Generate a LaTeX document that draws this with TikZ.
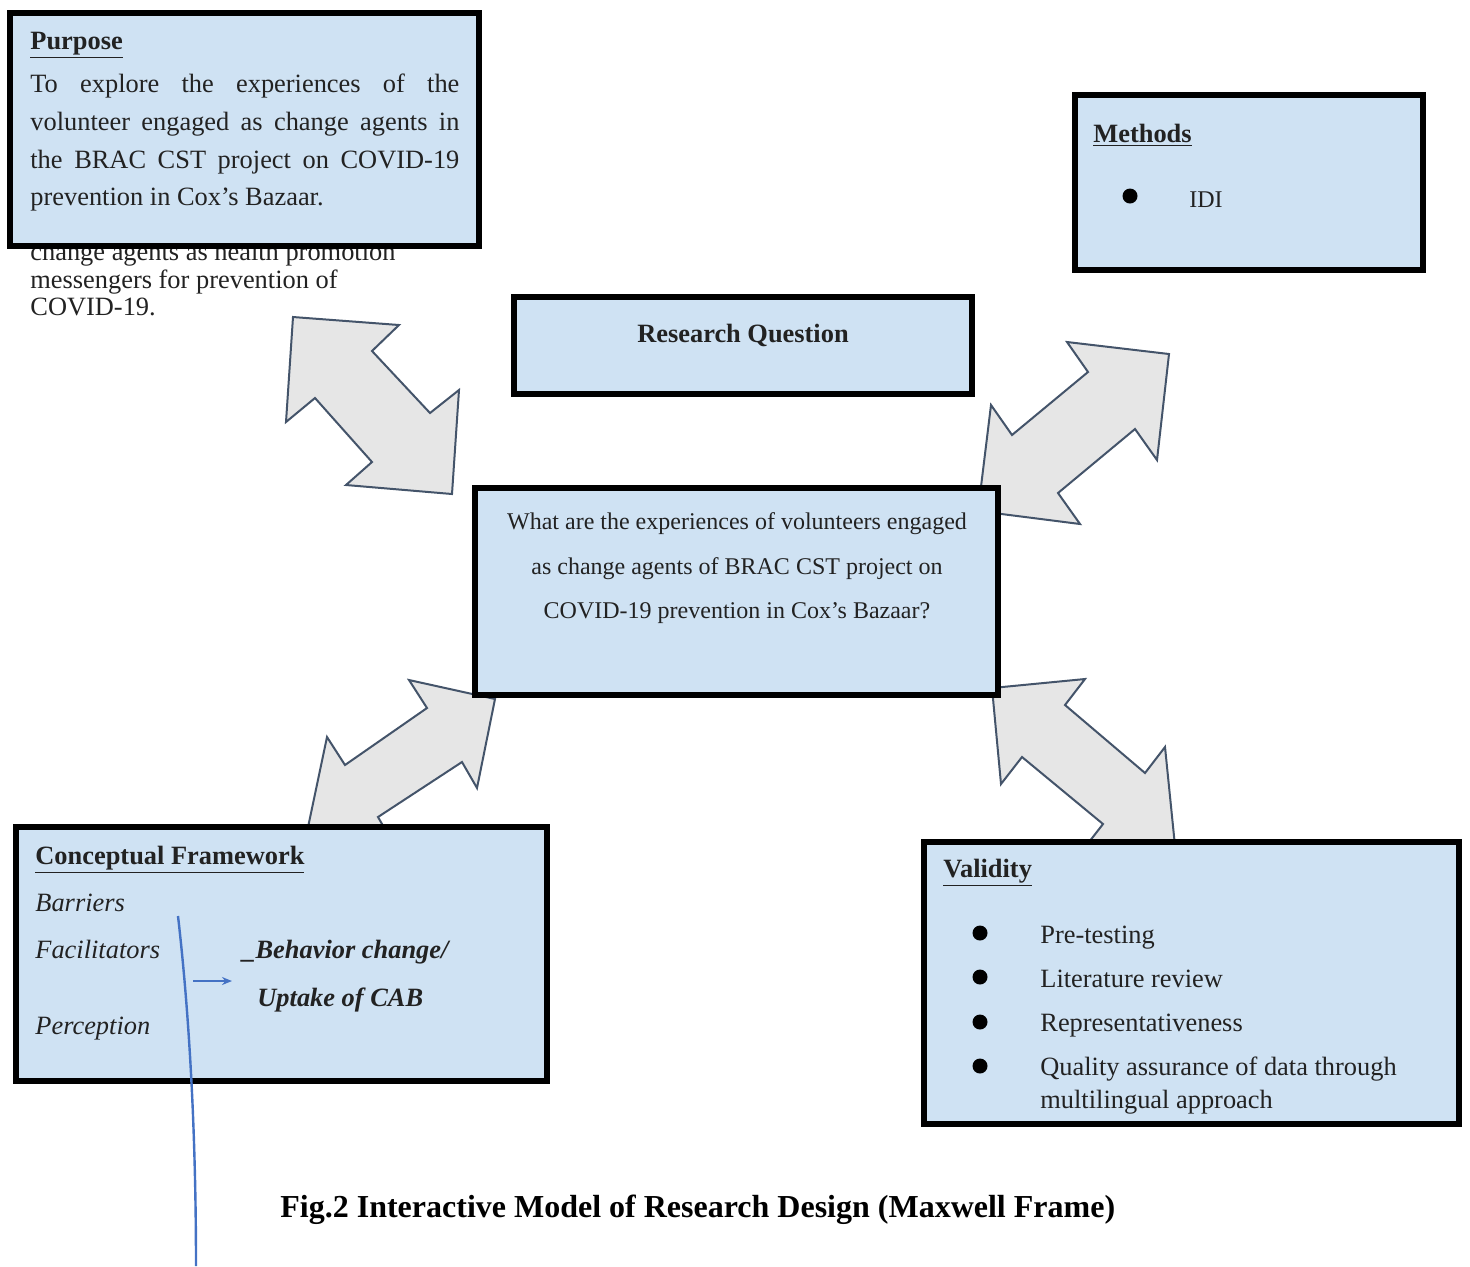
\documentclass[tikz,border=0pt]{standalone}
\usepackage{fontspec}
\setmainfont{Liberation Serif}
\usetikzlibrary{fit,arrows.meta}
\definecolor{panelblue}{RGB}{207,226,243}
\definecolor{arrowgray}{RGB}{230,230,230}
\definecolor{arrowedge}{RGB}{68,84,106}
\definecolor{linkblue}{RGB}{68,114,196}
\definecolor{inkgray}{RGB}{34,34,34}
\tikzset{
  panel/.style={draw=black, line width=3.2pt, fill=panelblue, inner sep=0pt, outer sep=0pt},
  blockarrow/.style={draw=arrowedge, fill=arrowgray, line width=1pt, line join=miter},
  txt/.style={anchor=base west, inner sep=0pt, text=inkgray, font=\fontsize{13.2}{15}\selectfont},
  head/.style={txt, font=\fontsize{13.2}{15}\selectfont\bfseries},
  smalltxt/.style={txt, font=\fontsize{12}{14}\selectfont},
  slanttxt/.style={txt, font=\fontsize{13.2}{15}\selectfont\itshape},
}
\begin{document}
\begin{tikzpicture}[x=0.5pt,y=-0.5pt]
    \useasboundingbox (0,0) rectangle (1470,1266);

    \draw[blockarrow] (293,317) -- (399,325) -- (372,351) -- (430,413) -- (459,390) -- (452,494)
        -- (346,485) -- (372,462) -- (315,398) -- (286,422) -- cycle;
    \draw[blockarrow] (1169,354) -- (1067,342) -- (1088,372) -- (1012,435) -- (991,405) -- (978,511)
        -- (1080,524) -- (1058,493) -- (1135,429) -- (1157,460) -- cycle;
    \draw[blockarrow] (495,699) -- (409,680) -- (427,708) -- (345,765) -- (327,737) -- (307,832)
        -- (393,843) -- (378,817) -- (462,762) -- (477,788) -- cycle;
    \draw[blockarrow] (992,688) -- (1085,679) -- (1065,705) -- (1145,773) -- (1165,747) -- (1175,846)
        -- (1082,851) -- (1103,824) -- (1022,757) -- (1001,784) -- cycle;

    \node[txt] (spill1) at (30,260) {change agents as health promotion};
    \node[txt] (spill2) at (30,288) {messengers for prevention of};
    \node[txt] (spill3) at (30,315) {COVID-19.};

    \node[panel, fit={(10,13) (479,246)}] (purpose) {};
    \node[panel, fit={(1075,95) (1423,270)}] (methods) {};
    \node[panel, fit={(514,297) (972,394)}] (question) {};
    \node[panel, fit={(475,488) (998,695)}] (rq) {};
    \node[panel, fit={(16,827) (547,1081)}] (cf) {};
    \node[panel, fit={(924,842) (1459,1124)}] (validity) {};

    \node[head] (purposehead) at (30,49) {\underline{Purpose}};
    \node[txt] (purpose1) at (30,92) {\makebox[214.5pt][s]{To explore the experiences of the}};
    \node[txt] (purpose2) at (30,130) {\makebox[214.5pt][s]{volunteer engaged as change agents in}};
    \node[txt] (purpose3) at (30,168) {\makebox[214.5pt][s]{the BRAC CST project on COVID-19}};
    \node[txt] (purpose4) at (30,205) {prevention in Cox's Bazaar.};

    \node[head] (methodshead) at (1093,142) {\underline{Methods}};
    \fill[black] (1130,196) circle[radius=3.75pt];
    \node[smalltxt] (idi) at (1189,207) {IDI};

    \node[head, anchor=base] (questionhead) at (743,342) {Research Question};

    \node[smalltxt, anchor=base] (rq1) at (737,529) {What are the experiences of volunteers engaged};
    \node[smalltxt, anchor=base] (rq2) at (737,574) {as change agents of BRAC CST project on};
    \node[smalltxt, anchor=base] (rq3) at (737,618) {COVID-19 prevention in Cox's Bazaar?};

    \node[head] (cfhead) at (35,864) {\underline{Conceptual Framework}};
    \node[slanttxt] (barriers) at (35,911) {Barriers};
    \node[slanttxt] (facilitators) at (35,958) {Facilitators};
    \node[slanttxt] (perception) at (35,1034) {Perception};
    \node[head, font=\fontsize{13.2}{15}\selectfont\bfseries\itshape] (behavior) at (242,958) {\_Behavior change/};
    \node[head, font=\fontsize{13.2}{15}\selectfont\bfseries\itshape] (uptake) at (257,1006) {Uptake of CAB};
    \coordinate (linkstart) at (193,981);
    \coordinate (linkend) at (232,981);
    \draw[linkblue, line width=0.8pt, -{Stealth[length=5pt,width=4pt]}] (linkstart) -- (linkend);

    \node[head] (validityhead) at (943,877) {\underline{Validity}};
    \fill[black] (980,933) circle[radius=3.75pt];
    \fill[black] (980,977) circle[radius=3.75pt];
    \fill[black] (980,1022) circle[radius=3.75pt];
    \fill[black] (980,1066) circle[radius=3.75pt];
    \node[txt] (pretest) at (1040,943) {Pre-testing};
    \node[txt] (litreview) at (1040,987) {Literature review};
    \node[txt] (represent) at (1040,1031) {Representativeness};
    \node[txt] (quality) at (1040,1075) {Quality assurance of data through};
    \node[txt] (quality2) at (1040,1108) {multilingual approach};

    \coordinate (stroketop) at (178,916);
    \coordinate (strokeend) at (196,1266);
    \draw[linkblue, line width=1.2pt] (stroketop) .. controls (190,1020) and (196,1140) .. (strokeend);

    \node[txt, text=black, font=\fontsize{16}{19}\selectfont\bfseries] (caption) at (280,1217)
        {Fig.2 Interactive Model of Research Design (Maxwell Frame)};
\end{tikzpicture}
\end{document}
